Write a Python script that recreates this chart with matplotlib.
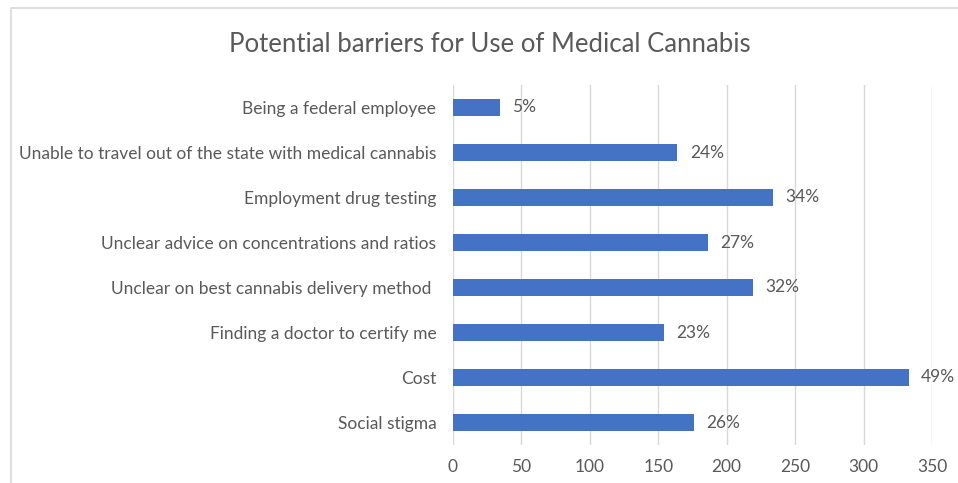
import matplotlib
matplotlib.use("Agg")
import matplotlib.pyplot as plt
from matplotlib.patches import Rectangle

barriers = ["Social stigma", "Cost", "Finding a doctor to certify me",
            "Unclear on best cannabis delivery method ",
            "Unclear advice on concentrations and ratios",
            "Employment drug testing",
            "Unable to travel out of the state with medical cannabis",
            "Being a federal employee"]
counts = [176, 333, 154, 219, 186, 234, 164, 34]
pct_labels = ["26%", "49%", "23%", "32%", "27%", "34%", "24%", "5%"]
x_ticks = [0, 50, 100, 150, 200, 250, 300, 350]

plt.rcParams['font.family'] = ['Lato', 'DejaVu Sans']
text_col = "#595959"

fig = plt.figure(figsize=(9.58, 4.83), dpi=100)
ax = fig.add_axes([453/958, 1-445/483, (932-453)/958, (445-85)/483])

pos = range(len(barriers))
ax.barh(pos, counts, height=0.37, color="#4472C4", zorder=3)
for y, v, lab in zip(pos, counts, pct_labels):
    ax.text(v + 9, y, lab, va="center", ha="left", fontsize=12.5, color=text_col)

ax.set_xlim(0, 350)
ax.set_ylim(-0.5, len(barriers) - 0.5)
ax.set_xticks(x_ticks)
ax.set_yticks(list(pos))
ax.set_yticklabels(barriers)
ax.tick_params(axis="both", length=0, labelsize=12.5, labelcolor=text_col)
ax.tick_params(axis="x", pad=10)
ax.tick_params(axis="y", pad=12)
ax.grid(axis="x", color="#D9D9D9", linewidth=1, zorder=0)
for s in ax.spines.values():
    s.set_visible(False)

fig.text(489.5/958, 1-45/483, "Potential barriers for Use of Medical Cannabis",
         ha="center", va="center", fontsize=18.5, color=text_col)

# light frame around the chart area (cut off at right and bottom)
fig.patches.append(Rectangle((11/958, -0.1), 1.1, 1.1 - 8/483,
                             transform=fig.transFigure, fill=False,
                             edgecolor="#D9D9D9", linewidth=1.2))

fig.savefig("out.png", dpi=100)
